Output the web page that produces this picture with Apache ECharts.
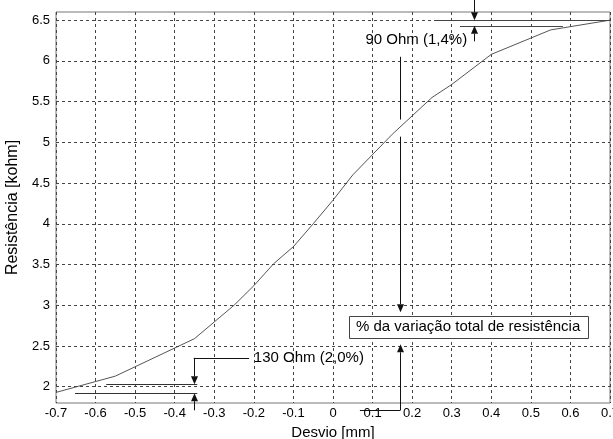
<!DOCTYPE html>
<html><head><meta charset="utf-8">
<script src="https://cdn.jsdelivr.net/npm/echarts@6/dist/echarts.min.js"></script>
<style>html,body{margin:0;padding:0;background:#fff}#c{width:613px;height:439px}</style>
</head><body><div id="c"></div>
<script>
// ---- data ----
const desvio = [-0.7, -0.55, -0.35, -0.25, -0.2, -0.15, -0.1, -0.05, 0, 0.05, 0.15, 0.25, 0.3, 0.4, 0.55, 0.7];
const resistencia = [1.93, 2.13, 2.59, 3.0, 3.24, 3.51, 3.72, 4.0, 4.29, 4.6, 5.1, 5.55, 5.71, 6.08, 6.38, 6.5];
const xRange = [-0.7, 0.7];
const yRange = [1.8, 6.6];
const yGridValues = [2, 2.5, 3, 3.5, 4, 4.5, 5, 5.5, 6, 6.5];
const xName = 'Desvio [mm]';
const yName = 'Resistência [kohm]';
const topLabel = '90 Ohm (1,4%)';
const bottomLabel = '130 Ohm (2,0%)';
const boxLabel = '% da variação total de resistência';
// annotation anchor values (data coordinates)
const topUpper = 6.5, topLower = 6.43;
const botUpper = 2.03, botLower = 1.92;

const FONT = "'Liberation Sans', Arial, sans-serif";
const chart = echarts.init(document.getElementById('c'), null, {renderer: 'canvas'});

chart.setOption({
  animation: false,
  backgroundColor: '#fff',
  grid: {left: 56, right: 3, top: 12, bottom: 36, show: true, borderColor: '#777', borderWidth: 1, backgroundColor: 'transparent', containLabel: false, outerBoundsMode: 'none'},
  xAxis: {
    type: 'value', min: xRange[0], max: xRange[1], interval: 0.1,
    name: xName, nameLocation: 'middle', nameGap: 21,
    nameTextStyle: {fontFamily: FONT, fontSize: 15, color: '#000'},
    axisLine: {show: false}, axisTick: {show: false},
    axisLabel: {fontFamily: FONT, fontSize: 13, color: '#000', margin: 4,
      formatter: v => String(Math.round(v * 10) / 10)},
    splitLine: {show: true, lineStyle: {type: [3, 3], color: '#444', width: 1}}
  },
  yAxis: {
    type: 'value', min: yRange[0], max: yRange[1], interval: 0.1,
    name: yName, nameLocation: 'middle', nameGap: 33,
    nameTextStyle: {fontFamily: FONT, fontSize: 16, color: '#000'},
    axisLine: {show: false}, axisTick: {show: false},
    axisLabel: {fontFamily: FONT, fontSize: 13, color: '#000', margin: 6,
      formatter: v => { const r = Math.round(v * 10); return r % 5 === 0 ? String(r / 10) : ''; }},
    splitLine: {show: false}
  },
  series: [{
    type: 'line', data: desvio.map((x, i) => [x, resistencia[i]]),
    symbol: 'none', lineStyle: {color: '#555', width: 1}, silent: true,
    markLine: {silent: true, symbol: 'none', label: {show: false}, animation: false,
      lineStyle: {type: [3, 3], color: '#444', width: 1},
      data: yGridValues.map(v => ({yAxis: v}))}
  }]
});

function P(x, y) { return chart.convertToPixel({gridIndex: 0}, [x, y]); }
const g = [];
const INK = '#111';
function hline(y, x1, x2, color) {
  const a = P(x1, y), b = P(x2, y); const py = Math.round(a[1]) + 0.5;
  g.push({type: 'line', z: 50, shape: {x1: a[0], y1: py, x2: b[0], y2: py}, style: {stroke: color || '#333', lineWidth: 1}});
}
function vline(x, y1, y2) {
  const a = P(x, y1), b = P(x, y2); const px = Math.round(a[0]) + 0.5;
  g.push({type: 'line', z: 50, shape: {x1: px, y1: a[1], x2: px, y2: b[1]}, style: {stroke: INK, lineWidth: 1}});
}
function arrow(x, yFrom, yTip) {
  const a = P(x, yFrom), t = P(x, yTip); const px = Math.round(a[0]) + 0.5;
  const d = t[1] > a[1] ? 1 : -1; const L = 8, W = 3.5;
  g.push({type: 'line', z: 50, shape: {x1: px, y1: a[1], x2: px, y2: t[1] - d * L}, style: {stroke: INK, lineWidth: 1}});
  g.push({type: 'polygon', z: 50, shape: {points: [[px, t[1]], [px - W, t[1] - d * L], [px + W, t[1] - d * L]]}, style: {fill: INK}});
}
function text(str, x, y, align) {
  const p = P(x, y);
  g.push({type: 'text', z: 60, style: {text: str, x: p[0], y: p[1], font: '15px ' + FONT, fill: '#000', align: align, verticalAlign: 'middle'}});
}

// top annotation
hline(topUpper, 0.262, 0.7, '#444');
hline(topLower, 0.321, 0.581, '#444');
arrow(0.356, 6.76, topUpper);
arrow(0.356, 6.24, topLower);
text(topLabel, 0.339, 6.26, 'right');

// bottom annotation
hline(botUpper, -0.573, -0.343, '#333');
hline(botLower, -0.652, -0.343, '#333');
arrow(-0.352, 2.354, botUpper);
hline(2.354, -0.352, -0.212, '#111');
arrow(-0.352, 1.71, botLower);
text(bottomLabel, -0.2, 2.354, 'left');

// middle box annotation
vline(0.17, 6.05, 5.28);
arrow(0.17, 5.07, 2.915);
arrow(0.17, 1.71, 2.52);
hline(1.71, 0.068, 0.17, '#111');
(function () {
  const a = P(0.04, 2.87), b = P(0.643, 2.6);
  const x = Math.round(a[0]) + 0.5, y = Math.round(a[1]) + 0.5;
  g.push({type: 'rect', z: 55, shape: {x: x, y: y, width: Math.round(b[0] - a[0]), height: Math.round(b[1] - a[1])}, style: {fill: '#fff', stroke: '#444', lineWidth: 1}});
  const c = P((0.04 + 0.643) / 2, (2.87 + 2.6) / 2);
  g.push({type: 'text', z: 60, style: {text: boxLabel, x: c[0], y: c[1], font: '15px ' + FONT, fill: '#000', align: 'center', verticalAlign: 'middle'}});
})();

chart.setOption({graphic: {elements: g}});
</script>
</body></html>
